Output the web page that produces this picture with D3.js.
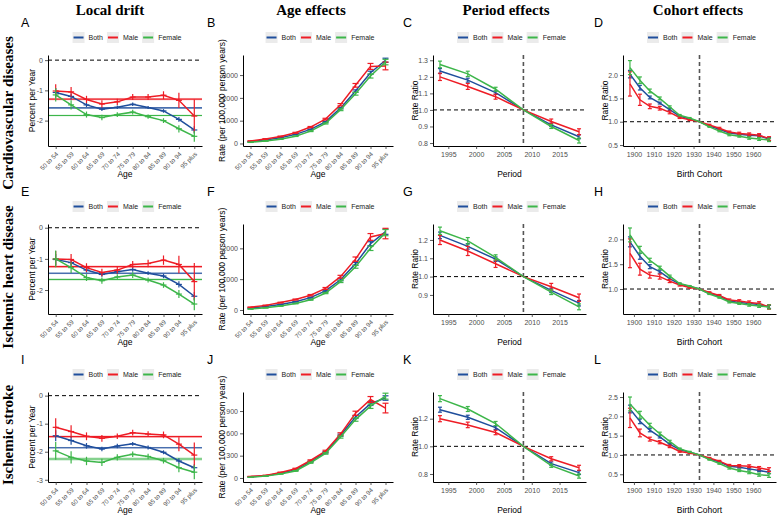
<!DOCTYPE html>
<html lang="en">
<head>
<meta charset="UTF-8">
<title>Local drift, age, period and cohort effects</title>
<script src="https://d3js.org/d3.v7.min.js"></script>
<style>
  body { margin: 0; background: #fff; }
  svg text { font-family: "Liberation Sans", Arial, sans-serif; }
</style>
</head>
<body>
<svg id="chart" width="778" height="518"></svg>
<script>
// ---------- data ----------
const sexes = ["Both", "Male", "Female"];
const sexColors = ["#1f4e9c", "#ee1c25", "#3db64a"];
const diseases = ["Cardiovascular diseases", "Ischemic heart disease", "Ischemic stroke"];
const columnTitles = ["Local drift", "Age effects", "Period effects", "Cohort effects"];
const panelLetters = ["A", "B", "C", "D", "E", "F", "G", "H", "I", "J", "K", "L"];

const ageGroups = ["50 to 54", "55 to 59", "60 to 64", "65 to 69", "70 to 74",
                   "75 to 79", "80 to 84", "85 to 89", "90 to 94", "95 plus"];
const periods = [1993.5, 1998.5, 2003.5, 2008.5, 2013.5, 2018.5];
const refPeriod = 2008.5;
const cohorts = [1898, 1903, 1908, 1913, 1918, 1923, 1928, 1933, 1938, 1943, 1948, 1953, 1958, 1963, 1968];
const refCohort = 1933;

// tick labels
const periodTicks = [1995, 2000, 2005, 2010, 2015];
const cohortTicks = [1900, 1910, 1920, 1930, 1940, 1950, 1960];
const driftTicks = [[0, -1, -2], [0, -1, -2], [0, -1, -2, -3]];
const ageTicks = [[0, 1000, 2000, 3000], [0, 1000, 2000], [0, 300, 600, 900]];
const periodRRTicks = [[0.8, 0.9, 1.0, 1.1, 1.2, 1.3], [0.9, 1.0, 1.1, 1.2], [0.8, 1.0, 1.2]];
const cohortRRTicks = [[0.5, 1.0, 1.5, 2.0], [1.0, 1.5, 2.0], [0.5, 1.0, 1.5, 2.0, 2.5]];

// Cardiovascular diseases: [Both, Male, Female]
const cvdDrift = [
  [-1.07, -1.20, -1.48, -1.62, -1.56, -1.46, -1.57, -1.68, -1.96, -2.31],
  [-1.02, -1.05, -1.30, -1.45, -1.38, -1.22, -1.22, -1.16, -1.33, -1.85],
  [-1.15, -1.48, -1.80, -1.90, -1.80, -1.72, -1.87, -2.00, -2.27, -2.52]];
const cvdDriftCI = [
  [0.15, 0.10, 0.07, 0.06, 0.06, 0.06, 0.05, 0.06, 0.08, 0.12],
  [0.22, 0.16, 0.12, 0.12, 0.10, 0.10, 0.10, 0.13, 0.25, 0.55],
  [0.22, 0.15, 0.10, 0.09, 0.08, 0.08, 0.07, 0.08, 0.12, 0.18]];
const cvdNet = [-1.58, -1.29, -1.83];
const cvdNetCI = [0.03, 0.04, 0.03];
const cvdAge = [
  [80, 150, 250, 400, 620, 950, 1550, 2300, 3100, 3650],
  [110, 200, 310, 470, 720, 1070, 1700, 2550, 3380, 3400],
  [50, 110, 190, 320, 540, 880, 1480, 2180, 2960, 3570]];
const cvdAgeCI = [
  [4, 6, 8, 10, 15, 20, 30, 50, 70, 90],
  [8, 10, 15, 20, 25, 35, 50, 80, 130, 170],
  [4, 6, 10, 12, 18, 25, 40, 60, 90, 120]];
const cvdPeriod = [
  [1.235, 1.18, 1.105, 1.0, 0.91, 0.838],
  [1.20, 1.142, 1.08, 1.0, 0.93, 0.868],
  [1.275, 1.218, 1.125, 1.0, 0.90, 0.815]];
const cvdPeriodCI = [
  [0.015, 0.012, 0.010, 0, 0.010, 0.012],
  [0.022, 0.018, 0.015, 0, 0.015, 0.018],
  [0.020, 0.016, 0.012, 0, 0.012, 0.015]];
const cvdCohort = [
  [2.02, 1.73, 1.52, 1.40, 1.26, 1.12, 1.06, 1.0, 0.91, 0.84, 0.76, 0.73, 0.71, 0.70, 0.63],
  [1.81, 1.47, 1.33, 1.29, 1.20, 1.09, 1.04, 1.0, 0.93, 0.86, 0.78, 0.75, 0.73, 0.71, 0.64],
  [2.16, 1.89, 1.66, 1.50, 1.32, 1.14, 1.08, 1.0, 0.89, 0.80, 0.72, 0.69, 0.65, 0.63, 0.61]];
const cvdCohortCI = [
  [0.08, 0.05, 0.03, 0.02, 0.02, 0.015, 0.01, 0, 0.01, 0.01, 0.015, 0.02, 0.02, 0.025, 0.03],
  [0.26, 0.12, 0.05, 0.04, 0.03, 0.02, 0.015, 0, 0.015, 0.02, 0.02, 0.025, 0.03, 0.035, 0.04],
  [0.15, 0.07, 0.04, 0.03, 0.02, 0.015, 0.01, 0, 0.01, 0.015, 0.02, 0.02, 0.025, 0.03, 0.035]];

// Ischemic heart disease
const ihdDrift = [
  [-1.02, -1.12, -1.36, -1.50, -1.41, -1.34, -1.46, -1.55, -1.82, -2.20],
  [-1.00, -1.02, -1.28, -1.44, -1.36, -1.18, -1.15, -1.04, -1.18, -1.73],
  [-1.00, -1.28, -1.60, -1.70, -1.58, -1.52, -1.68, -1.84, -2.13, -2.45]];
const ihdDriftCI = [
  [0.18, 0.12, 0.08, 0.07, 0.07, 0.07, 0.06, 0.07, 0.10, 0.14],
  [0.25, 0.18, 0.14, 0.12, 0.11, 0.11, 0.12, 0.15, 0.28, 0.60],
  [0.27, 0.17, 0.11, 0.10, 0.09, 0.09, 0.08, 0.09, 0.13, 0.20]];
const ihdNet = [-1.46, -1.25, -1.66];
const ihdNetCI = [0.03, 0.04, 0.04];
const ihdAge = [
  [60, 110, 180, 270, 400, 620, 980, 1500, 2150, 2540],
  [90, 150, 240, 340, 480, 700, 1080, 1650, 2370, 2480],
  [30, 70, 130, 210, 330, 550, 920, 1400, 2000, 2510]];
const ihdAgeCI = [
  [4, 6, 8, 10, 14, 20, 30, 45, 65, 85],
  [6, 9, 12, 16, 22, 30, 45, 70, 110, 170],
  [3, 5, 8, 10, 14, 20, 30, 45, 70, 100]];
const ihdPeriod = [
  [1.225, 1.165, 1.095, 1.0, 0.925, 0.855],
  [1.20, 1.14, 1.07, 1.0, 0.945, 0.885],
  [1.25, 1.195, 1.105, 1.0, 0.915, 0.835]];
const ihdPeriodCI = [
  [0.018, 0.015, 0.012, 0, 0.012, 0.015],
  [0.025, 0.025, 0.020, 0, 0.018, 0.020],
  [0.020, 0.018, 0.014, 0, 0.013, 0.016]];
const ihdCohort = [
  [1.95, 1.66, 1.45, 1.35, 1.21, 1.10, 1.05, 1.0, 0.91, 0.86, 0.76, 0.73, 0.71, 0.69, 0.64],
  [1.72, 1.40, 1.28, 1.25, 1.16, 1.08, 1.03, 1.0, 0.93, 0.87, 0.78, 0.76, 0.73, 0.71, 0.64],
  [2.09, 1.79, 1.58, 1.43, 1.26, 1.11, 1.06, 1.0, 0.90, 0.83, 0.74, 0.71, 0.68, 0.66, 0.64]];
const ihdCohortCI = [
  [0.10, 0.06, 0.04, 0.03, 0.02, 0.015, 0.01, 0, 0.01, 0.012, 0.015, 0.02, 0.02, 0.025, 0.03],
  [0.29, 0.12, 0.06, 0.05, 0.03, 0.02, 0.015, 0, 0.015, 0.02, 0.02, 0.025, 0.03, 0.035, 0.045],
  [0.14, 0.07, 0.04, 0.03, 0.02, 0.015, 0.01, 0, 0.01, 0.015, 0.02, 0.02, 0.025, 0.03, 0.04]];

// Ischemic stroke
const isDrift = [
  [-1.43, -1.60, -1.79, -1.90, -1.80, -1.72, -1.85, -2.02, -2.33, -2.57],
  [-1.13, -1.28, -1.45, -1.52, -1.45, -1.32, -1.37, -1.40, -1.73, -2.12],
  [-1.97, -2.20, -2.33, -2.38, -2.20, -2.09, -2.17, -2.32, -2.57, -2.73]];
const isDriftCI = [
  [0.20, 0.15, 0.10, 0.08, 0.08, 0.07, 0.07, 0.07, 0.10, 0.12],
  [0.32, 0.22, 0.14, 0.12, 0.10, 0.10, 0.10, 0.12, 0.25, 0.45],
  [0.32, 0.22, 0.15, 0.13, 0.11, 0.10, 0.10, 0.10, 0.16, 0.25]];
const isNet = [-1.86, -1.46, -2.26];
const isNetCI = [0.03, 0.04, 0.06];
const isAge = [
  [15, 30, 65, 110, 220, 345, 575, 820, 1000, 1075],
  [20, 35, 75, 125, 235, 360, 590, 870, 1055, 940],
  [10, 25, 55, 95, 205, 330, 550, 785, 965, 1100]];
const isAgeCI = [
  [1, 2, 3, 4, 7, 10, 14, 20, 25, 30],
  [2, 3, 4, 6, 9, 13, 18, 28, 40, 65],
  [1, 2, 3, 5, 7, 10, 14, 22, 30, 40]];
const isPeriod = [
  [1.265, 1.21, 1.135, 1.0, 0.875, 0.81],
  [1.20, 1.155, 1.10, 1.0, 0.91, 0.845],
  [1.345, 1.27, 1.165, 1.0, 0.86, 0.785]];
const isPeriodCI = [
  [0.018, 0.015, 0.012, 0, 0.012, 0.014],
  [0.022, 0.020, 0.016, 0, 0.015, 0.018],
  [0.022, 0.018, 0.015, 0, 0.012, 0.015]];
const isCohort = [
  [2.19, 1.87, 1.64, 1.47, 1.28, 1.14, 1.07, 1.0, 0.90, 0.82, 0.71, 0.68, 0.64, 0.60, 0.55],
  [1.96, 1.57, 1.41, 1.33, 1.22, 1.09, 1.05, 1.0, 0.92, 0.84, 0.73, 0.72, 0.71, 0.66, 0.62],
  [2.32, 2.04, 1.77, 1.55, 1.35, 1.16, 1.08, 1.0, 0.88, 0.78, 0.66, 0.60, 0.55, 0.49, 0.47]];
const isCohortCI = [
  [0.10, 0.06, 0.04, 0.03, 0.02, 0.015, 0.01, 0, 0.01, 0.015, 0.02, 0.02, 0.025, 0.03, 0.035],
  [0.25, 0.10, 0.05, 0.04, 0.03, 0.02, 0.015, 0, 0.015, 0.02, 0.025, 0.03, 0.035, 0.04, 0.05],
  [0.18, 0.09, 0.05, 0.04, 0.03, 0.02, 0.015, 0, 0.015, 0.02, 0.025, 0.03, 0.035, 0.04, 0.05]];

// ---------- layout ----------
const svg = d3.select("#chart");
const colX = [[48, 202], [243, 393], [433, 586], [623, 776]];
const rowY = [[55, 146], [224, 314], [392, 482]];
const yTitleGap = [13, 18, 15, 15];
const letterX = [21, 207, 403, 594];
const colTitleX = [110, 311, 506, 698];
const rowLabelY = [113, 277, 435];

// y limits of each panel (row by row)
const driftDomains = [[-2.84, 0.17], [-2.77, 0.12], [-3.08, 0.13]];
const ageDomains = [[-110, 3880], [-130, 2790], [-54, 1156]];
const periodDomains = [[0.782, 1.332], [0.796, 1.287], [0.742, 1.393]];
const cohortDomains = [[0.48, 2.43], [0.497, 2.31], [0.30, 2.63]];
const periodRange = [1992.25, 2019.75];
const cohortRange = [1894.5, 1971.5];

const rows = [
  {drift: cvdDrift, driftCI: cvdDriftCI, net: cvdNet, netCI: cvdNetCI, age: cvdAge, ageCI: cvdAgeCI,
   period: cvdPeriod, periodCI: cvdPeriodCI, cohort: cvdCohort, cohortCI: cvdCohortCI},
  {drift: ihdDrift, driftCI: ihdDriftCI, net: ihdNet, netCI: ihdNetCI, age: ihdAge, ageCI: ihdAgeCI,
   period: ihdPeriod, periodCI: ihdPeriodCI, cohort: ihdCohort, cohortCI: ihdCohortCI},
  {drift: isDrift, driftCI: isDriftCI, net: isNet, netCI: isNetCI, age: isAge, ageCI: isAgeCI,
   period: isPeriod, periodCI: isPeriodCI, cohort: isCohort, cohortCI: isCohortCI}];

const serif = '"Liberation Serif", "Times New Roman", serif';

// Column titles
svg.selectAll(".coltitle").data(columnTitles).join("text")
  .attr("x", (d, i) => colTitleX[i]).attr("y", 15)
  .attr("text-anchor", "middle")
  .style("font-family", serif).style("font-weight", "bold").style("font-size", "15px")
  .text(d => d);

// Row labels
svg.selectAll(".rowlabel").data(diseases).join("text")
  .attr("transform", (d, i) => `translate(12.5,${rowLabelY[i]}) rotate(-90)`)
  .attr("text-anchor", "middle")
  .style("font-family", serif).style("font-weight", "bold").style("font-size", "15px")
  .text(d => d);

function drawLegend(cx, cy) {
  const lg = svg.append("g");
  let x = 0;
  sexes.forEach((s, i) => {
    lg.append("rect").attr("x", x).attr("y", cy - 5.5).attr("width", 12).attr("height", 11)
      .attr("fill", "#ebebeb");
    lg.append("line").attr("x1", x + 1).attr("x2", x + 11).attr("y1", cy).attr("y2", cy)
      .attr("stroke", sexColors[i]).attr("stroke-width", 2);
    const t = lg.append("text").attr("x", x + 16).attr("y", cy).attr("dy", "0.35em")
      .style("font-size", "7px").attr("fill", "#222").text(s);
    x += 16 + t.node().getComputedTextLength() + 4;
  });
  lg.attr("transform", `translate(${cx - (x - 4) / 2},0)`);
}

function styleAxis(a) {
  a.select(".domain").attr("stroke", "#000").attr("stroke-width", 1);
  a.selectAll(".tick line").attr("stroke", "#333").attr("stroke-width", 0.8);
  a.selectAll(".tick text").attr("fill", "#4d4d4d").style("font-size", "7px")
    .style("font-family", '"Liberation Sans", Arial, sans-serif');
}

function drawPanel(r, c) {
  const [x0, x1] = colX[c];
  const [y0, y1] = rowY[r];
  const d = rows[r];
  const g = svg.append("g");

  let x, xs, vals, cis, dom, ticks, fmt, xTitle, yTitle;
  if (c === 0) {
    x = d3.scalePoint().domain(ageGroups).range([x0, x1]).padding(0.5);
    xs = ageGroups; vals = d.drift; cis = d.driftCI; dom = driftDomains[r]; ticks = driftTicks[r];
    fmt = v => String(v); xTitle = "Age"; yTitle = "Percent per Year";
  } else if (c === 1) {
    x = d3.scalePoint().domain(ageGroups).range([x0, x1]).padding(0.5);
    xs = ageGroups; vals = d.age; cis = d.ageCI; dom = ageDomains[r]; ticks = ageTicks[r];
    fmt = v => String(v); xTitle = "Age"; yTitle = "Rate (per 100,000 person years)";
  } else if (c === 2) {
    x = d3.scaleLinear().domain(periodRange).range([x0, x1]);
    xs = periods; vals = d.period; cis = d.periodCI; dom = periodDomains[r]; ticks = periodRRTicks[r];
    fmt = d3.format(".1f"); xTitle = "Period"; yTitle = "Rate Ratio";
  } else {
    x = d3.scaleLinear().domain(cohortRange).range([x0, x1]);
    xs = cohorts; vals = d.cohort; cis = d.cohortCI; dom = cohortDomains[r]; ticks = cohortRRTicks[r];
    fmt = d3.format(".1f"); xTitle = "Birth Cohort"; yTitle = "Rate Ratio";
  }
  const y = d3.scaleLinear().domain(dom).range([y1, y0]);

  // reference lines
  if (c === 0) {
    g.append("line").attr("x1", x0).attr("x2", x1).attr("y1", y(0)).attr("y2", y(0))
      .attr("stroke", "#000").attr("stroke-width", 1).attr("stroke-dasharray", "4,3");
    // net drift with its confidence band
    sexes.forEach((s, i) => {
      g.append("rect").attr("x", x0).attr("width", x1 - x0)
        .attr("y", y(d.net[i] + d.netCI[i])).attr("height", y(d.net[i] - d.netCI[i]) - y(d.net[i] + d.netCI[i]))
        .attr("fill", sexColors[i]).attr("opacity", 0.25);
      g.append("line").attr("x1", x0).attr("x2", x1).attr("y1", y(d.net[i])).attr("y2", y(d.net[i]))
        .attr("stroke", sexColors[i]).attr("stroke-width", 1.1);
    });
  }
  if (c >= 2) {
    const ref = c === 2 ? refPeriod : refCohort;
    g.append("line").attr("x1", x0).attr("x2", x1).attr("y1", y(1)).attr("y2", y(1))
      .attr("stroke", "#000").attr("stroke-width", 1).attr("stroke-dasharray", "4,3");
    g.append("line").attr("x1", x(ref)).attr("x2", x(ref)).attr("y1", y0).attr("y2", y1)
      .attr("stroke", "#555").attr("stroke-width", 1.6).attr("stroke-dasharray", "4,3");
  }

  // series
  const line = d3.line().x(p => x(p.x)).y(p => y(p.v));
  sexes.forEach((s, i) => {
    const pts = xs.map((xv, k) => ({x: xv, v: vals[i][k], e: cis[i][k]}));
    const col = sexColors[i];
    const eb = g.append("g").attr("stroke", col).attr("stroke-width", 1.2);
    const cap = c === 1 ? 3 : 2;
    pts.forEach(p => {
      if (p.e <= 0) return;
      const px = x(p.x);
      eb.append("line").attr("x1", px).attr("x2", px).attr("y1", y(p.v - p.e)).attr("y2", y(p.v + p.e));
      if (c === 0) {
        eb.append("line").attr("x1", px - 3).attr("x2", px + 3).attr("y1", y(p.v)).attr("y2", y(p.v));
      } else {
        [p.v - p.e, p.v + p.e].forEach(v => eb.append("line")
          .attr("x1", px - cap).attr("x2", px + cap).attr("y1", y(v)).attr("y2", y(v)));
      }
    });
    g.append("path").datum(pts).attr("d", line)
      .attr("fill", "none").attr("stroke", col).attr("stroke-width", 1.5);
  });

  // axes
  g.append("g").attr("transform", `translate(${x0},0)`)
    .call(d3.axisLeft(y).tickValues(ticks).tickFormat(fmt).tickSize(3).tickSizeOuter(0).tickPadding(2))
    .call(styleAxis);

  let xAxis;
  if (c < 2) xAxis = d3.axisBottom(x);
  else xAxis = d3.axisBottom(x).tickValues(c === 2 ? periodTicks : cohortTicks).tickFormat(d3.format("d"));
  const xa = g.append("g").attr("transform", `translate(0,${y1})`)
    .call(xAxis.tickSize(3).tickSizeOuter(0).tickPadding(3))
    .call(styleAxis);
  if (c < 2) {
    xa.selectAll(".tick text")
      .attr("x", 0).attr("y", 0).attr("dy", "0.35em")
      .attr("transform", "translate(1,7) rotate(-45)")
      .attr("text-anchor", "end").style("font-size", "6.3px");
  }

  // titles
  g.append("text").attr("x", (x0 + x1) / 2).attr("y", y1 + 31).attr("text-anchor", "middle")
    .style("font-size", "8.5px").text(xTitle);
  g.append("text").attr("transform", `translate(${x0 - yTitleGap[c]},${(y0 + y1) / 2}) rotate(-90)`)
    .attr("text-anchor", "middle").style("font-size", "8.5px").text(yTitle);

  // panel letter and legend
  g.append("text").attr("x", letterX[c]).attr("y", y0 - 28)
    .style("font-size", "12.5px").text(panelLetters[r * 4 + c]);
  drawLegend((x0 + x1) / 2 + 2, y0 - 17.5);
}

for (let r = 0; r < 3; r++) {
  for (let c = 0; c < 4; c++) drawPanel(r, c);
}
</script>
</body>
</html>
